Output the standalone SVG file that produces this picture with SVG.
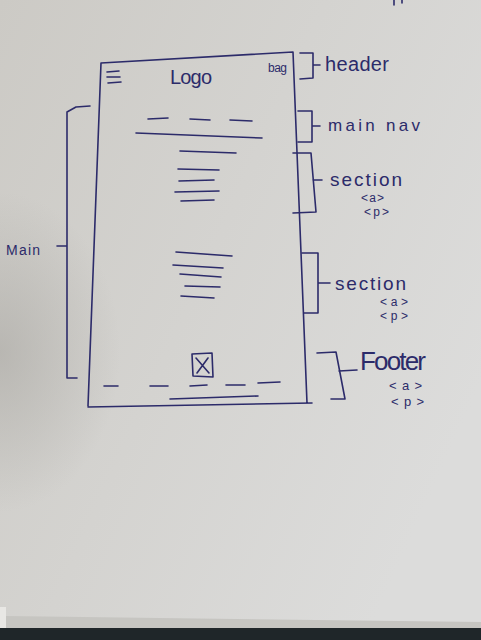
<svg xmlns="http://www.w3.org/2000/svg" width="481" height="640" viewBox="0 0 481 640">
<defs>
<linearGradient id="paper" x1="0" y1="0" x2="1" y2="0.6">
<stop offset="0" stop-color="#cccac5"/>
<stop offset="0.5" stop-color="#d4d3d0"/>
<stop offset="1" stop-color="#dcdcdb"/>
</linearGradient>
<radialGradient id="shade" cx="0" cy="0.55" r="0.25">
<stop offset="0" stop-color="#a9a7a2" stop-opacity="0.6"/>
<stop offset="1" stop-color="#a9a7a2" stop-opacity="0"/>
</radialGradient>
</defs>
<style>
.ink{fill:none;stroke:#2c2b6a;stroke-width:1.6;stroke-linecap:round;stroke-linejoin:round}
.t{fill:#2c2b6a;font-family:"Liberation Sans","DejaVu Sans",sans-serif}
</style>
<rect width="481" height="640" fill="url(#paper)"/>
<rect width="481" height="640" fill="url(#shade)"/>
<path d="M0 628 L481 628 L481 640 L0 640 Z" fill="#1f2629"/>
<path d="M5 616 L481 622 L481 628 L5 628 Z" fill="#c6c5c1"/>
<path d="M0 607 L6 607 L6 628 L0 628 Z" fill="#e8e7e4"/>
<path class="ink" d="M394 0 L394 5 M402 0 L402 3"/>

<g id="phone">
<path class="ink" d="M101 63 L293 52 L307 403 M88 407 L312 403 M101 63 L88 406"/>
</g>
<g id="header-content">
<path class="ink" d="M107 72 L119 71 M107 77 L120 77 M108 83 L121 82"/>
<text class="t" x="170" y="84" font-size="20" textLength="42">Logo</text>
<text class="t" x="268" y="72" font-size="12" textLength="19">bag</text>
</g>
<g id="nav-content">
<path class="ink" d="M148 119 L168 118 M190 119 L210 120 M230 120 L252 121 M136 133 L262 138"/>
</g>
<g id="section1-content">
<path class="ink" d="M180 151 L236 153 M178 169 L219 170 M179 181 L214 180 M175 192 L219 191 M181 201 L214 200"/>
</g>
<g id="section2-content">
<path class="ink" d="M176 252 L232 256 M173 265 L223 268 M180 274 L221 277 M185 286 L220 287 M181 296 L214 298"/>
</g>
<g id="footer-content">
<path class="ink" d="M192 354 L212 353 L213 377 L193 376 Z M196 358 L209 373 M208 358 L197 373"/>
<path class="ink" d="M104 386 L118 386 M150 386 L168 386 M190 386 L207 385 M226 385 L245 385 M258 383 L280 382 M170 399 L258 396"/>
</g>

<g id="connectors">
<path class="ink" d="M300 53 L313 53 L313 78 L300 79 M313 65 L320 65"/>
<path class="ink" d="M298 111 L312 111 L312 142 L298 142 M312 126 L320 126"/>
<path class="ink" d="M293 153 L311 153 L316 212 L293 213 M313 180 L322 180"/>
<path class="ink" d="M302 253 L318 253 L318 313 L304 313 M318 283 L330 283"/>
<path class="ink" d="M317 353 L336 352 L345 399 L331 399 M339 371 L357 370"/>
<path class="ink" d="M90 106 L76 107 L67 112 L67 378 L77 378 M57 246 L67 246"/>
</g>

<g id="label-header"><text class="t" x="325" y="71" font-size="20" textLength="64">header</text></g>
<g id="label-mainnav"><text class="t" x="328" y="131" font-size="17" textLength="92">main nav</text></g>
<g id="label-section1">
<text class="t" x="330" y="186" font-size="19" textLength="72">section</text>
<text class="t" x="361" y="202" font-size="12" textLength="23">&lt;a&gt;</text>
<text class="t" x="364" y="216" font-size="12" textLength="25">&lt;p&gt;</text>
</g>
<g id="label-section2">
<text class="t" x="335" y="290" font-size="19" textLength="71">section</text>
<text class="t" x="380" y="306" font-size="12" textLength="28">&lt;a&gt;</text>
<text class="t" x="380" y="320" font-size="12" textLength="28">&lt;p&gt;</text>
</g>
<g id="label-footer">
<text class="t" x="360" y="370" font-size="26" textLength="66">Footer</text>
<text class="t" x="389" y="390" font-size="13" textLength="33">&lt;a&gt;</text>
<text class="t" x="391" y="406" font-size="13" textLength="33">&lt;p&gt;</text>
</g>
<g id="label-main"><text class="t" x="6" y="255" font-size="14" textLength="34">Main</text></g>
</svg>
